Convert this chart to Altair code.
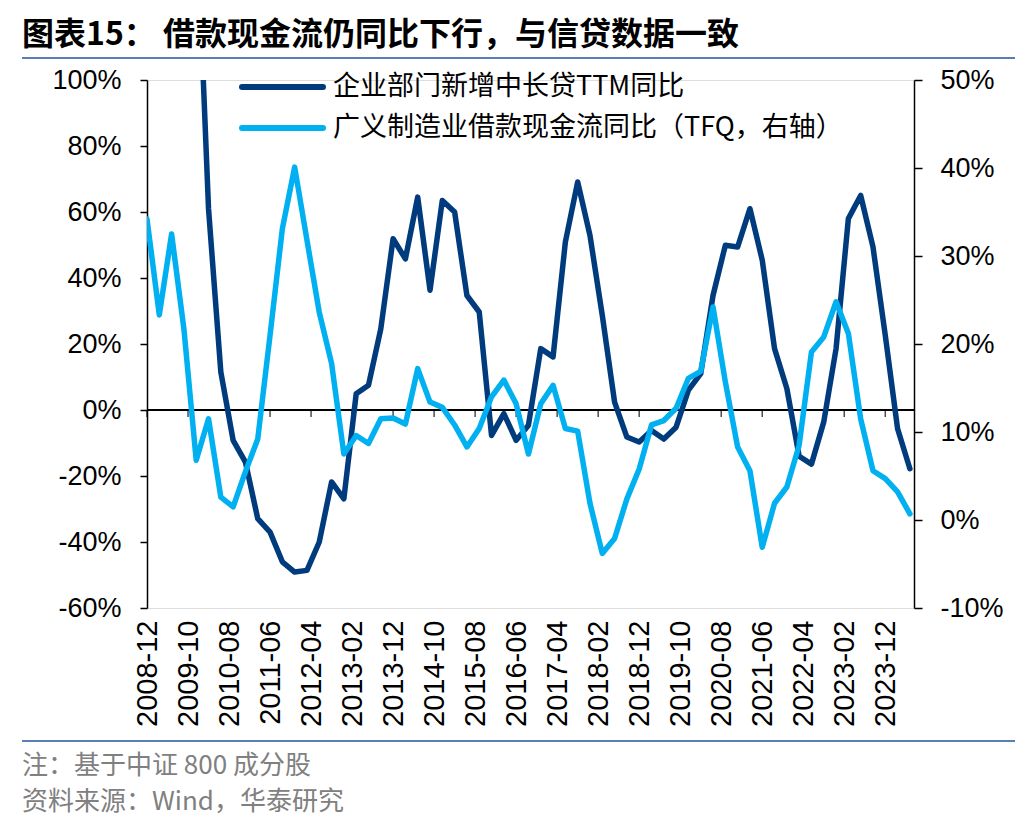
import altair as alt
import pandas as pd

# ---------------- data ----------------
# quarterly observations, 2008-12 ... 2024-06
quarters = [f"{2008 + (11 + 3 * k) // 12}-{((11 + 3 * k) % 12) + 1:02d}" for k in range(63)]

# 企业部门新增中长贷TTM同比 (left axis, %); first points are above the 100% axis limit
loan_ttm_yoy = [None, None, None, None, 153, 61, 11.5, -9.2, -15.8, -32.9,
                -37, -46, -49.1, -48.6, -40, -21.8, -26.9, 4.9, 7.5, 24.6,
                51.9, 45.8, 64.5, 36.3, 63.5, 60, 34.7, 29.7, -7.7, -1.1,
                -9.2, -4.6, 18.6, 16.1, 50.9, 69.1, 52.9, 28.7, 2.4, -8.2,
                -9.7, -6.2, -8.8, -5.2, 6, 11, 34.7, 49.9, 49.4, 61,
                45.4, 18.6, 6.5, -14, -16.4, -3.6, 18.6, 58, 65, 49.4,
                22.6, -5.7, -17.8]

# 广义制造业借款现金流同比 (TFQ, right axis, %)
cashflow_yoy = [34.2, 23.3, 32.5, 21.7, 6.8, 11.5, 2.6, 1.5, 5.5, 9.2,
                21, 33.1, 40.1, 31.8, 23.6, 17.8, 7.5, 9.6, 8.7, 11.5,
                11.6, 10.9, 17.2, 13.4, 12.8, 10.8, 8.3, 10.4, 14, 15.9,
                13.2, 7.5, 13.2, 15.3, 10.4, 10.1, 1.9, -3.8, -2.1, 2.4,
                5.8, 10.8, 11.3, 12.7, 16.1, 16.9, 24.2, 15.7, 8.3, 5.6,
                -3.1, 1.9, 3.75, 8.5, 19.1, 20.8, 24.8, 21.2, 11.5, 5.6,
                4.7, 3.2, 0.7]

series_names = ["企业部门新增中长贷TTM同比", "广义制造业借款现金流同比（TFQ，右轴）"]

tick_labels = ["2008-12", "2009-10", "2010-08", "2011-06", "2012-04", "2013-02",
               "2013-12", "2014-10", "2015-08", "2016-06", "2017-04", "2018-02",
               "2018-12", "2019-10", "2020-08", "2021-06", "2022-04", "2023-02",
               "2023-12"]
left_ticks = [-60, -40, -20, 0, 20, 40, 60, 80, 100]
right_ticks = [-10, 0, 10, 20, 30, 40, 50]

title_text = "图表15： 借款现金流仍同比下行，与信贷数据一致"
note_text = "注：基于中证 800 成分股"
source_text = "资料来源：Wind，华泰研究"

# ---------------- build ----------------
def month_index(s):
    y, m = s.split("-")
    return (int(y) - 2008) * 12 + int(m) - 12

months = [month_index(q) for q in quarters]
tick_values = [month_index(t) for t in tick_labels]

df_dark = pd.DataFrame({"m": months, "v": loan_ttm_yoy, "date": quarters})
df_light = pd.DataFrame({"m": months, "v": cashflow_yoy, "date": quarters})
df_ticks = pd.DataFrame({"m": tick_values, "label": tick_labels})

DARK = "#003B7D"
LIGHT = "#00B0F0"
NUM_FONT = "Liberation Sans"
CJK_FONT = "Noto Sans CJK SC"

W, H = 767, 528
xscale = alt.Scale(domain=[0, 187], nice=False, zero=False)
left_scale = alt.Scale(domain=[-60, 100], nice=False, zero=False)
label_expr = "[" + ",".join(f"'{s}'" for s in tick_labels) + "][round(datum.value/10)]"


def x_label_axis():
    return alt.Axis(values=tick_values, labelExpr=label_expr, labelAngle=270,
                    domain=False, ticks=False, tickSize=0, grid=False,
                    labelPadding=12, labelFont=NUM_FONT, labelFontSize=29,
                    labelColor="black", labelOverlap=False, title=None)


# zero line (category axis crossing at 0% of the left axis) with its tick marks
zero_line = alt.Chart(df_ticks).mark_rule(color="black", strokeWidth=1.5).encode(
    x=alt.value(0), x2=alt.value(W),
    y=alt.Y(datum=0, scale=left_scale, axis=None),
)
zero_ticks = alt.Chart(df_ticks).mark_tick(
    color="black", thickness=1.5, size=7, orient="vertical", yOffset=3.5
).encode(
    x=alt.X("m:Q", scale=xscale, axis=x_label_axis()),
    y=alt.Y(datum=0, scale=left_scale, axis=None),
)

dark = alt.Chart(df_dark).mark_line(
    color=DARK, strokeWidth=5.5, clip=True, strokeJoin="round", strokeCap="round"
).encode(
    x=alt.X("m:Q", scale=xscale, axis=x_label_axis()),
    y=alt.Y("v:Q", scale=left_scale,
            axis=alt.Axis(orient="left", values=left_ticks, labelExpr="datum.value + '%'",
                          grid=False, domainColor="black", tickColor="black", domainWidth=1.5,
                          tickWidth=1.5, tickSize=7, labelPadding=19, labelFont=NUM_FONT,
                          labelFontSize=27, labelColor="black", title=None)),
)

light = alt.Chart(df_light).mark_line(
    color=LIGHT, strokeWidth=5.5, clip=True, strokeJoin="round", strokeCap="round"
).encode(
    x=alt.X("m:Q", scale=xscale, axis=x_label_axis()),
    y=alt.Y("v:Q", scale=alt.Scale(domain=[-10, 50], nice=False, zero=False),
            axis=alt.Axis(orient="right", values=right_ticks, labelExpr="datum.value + '%'",
                          grid=False, domainColor="black", tickColor="black", domainWidth=1.5,
                          tickWidth=1.5, tickSize=8, labelPadding=18, labelFont=NUM_FONT,
                          labelFontSize=27, labelColor="black", title=None)),
)

one = alt.Data(values=[{"k": 1}])

# legend (manual)
leg_rows = []
for name, col, yy in zip(series_names, [DARK, LIGHT], [7, 48]):
    leg_rows.append(
        alt.Chart(one).mark_rule(color=col, strokeWidth=6, strokeCap="round").encode(
            x=alt.value(95), x2=alt.value(176), y=alt.value(yy))
    )
    leg_rows.append(
        alt.Chart(one).mark_text(align="left", baseline="middle", font=CJK_FONT,
                                 fontSize=27, color="black").encode(
            x=alt.value(186), y=alt.value(yy), text=alt.value(name))
    )

title = alt.Chart(one).mark_text(align="left", baseline="alphabetic", font=CJK_FONT,
                                 fontSize=32, fontWeight="bold", color="black").encode(
    x=alt.value(-125), y=alt.value(-35), text=alt.value(title_text))

sep_top = alt.Chart(one).mark_rule(color="#5A7DB5", strokeWidth=2).encode(
    x=alt.value(-125), x2=alt.value(868), y=alt.value(-22))
sep_bottom = alt.Chart(one).mark_rule(color="#5A7DB5", strokeWidth=2).encode(
    x=alt.value(-125), x2=alt.value(868), y=alt.value(661))

note = alt.Chart(one).mark_text(align="left", baseline="middle", font=CJK_FONT,
                                fontSize=26, color="#808080").encode(
    x=alt.value(-125), y=alt.value(686), text=alt.value(note_text))
source = alt.Chart(one).mark_text(align="left", baseline="middle", font=CJK_FONT,
                                  fontSize=26, color="#808080").encode(
    x=alt.value(-125), y=alt.value(722), text=alt.value(source_text))

chart = alt.layer(
    zero_line, zero_ticks, dark, light, *leg_rows, title, sep_top, sep_bottom, note, source
).resolve_scale(y="independent").properties(
    width=W, height=H,
    autosize=alt.AutoSizeParams(type="none"),
    padding={"left": 139, "top": 72, "right": 106, "bottom": 210},
).configure_view(stroke=None).configure(background="white")

chart.save("out.html", embed_options={"renderer": "svg", "actions": False})
